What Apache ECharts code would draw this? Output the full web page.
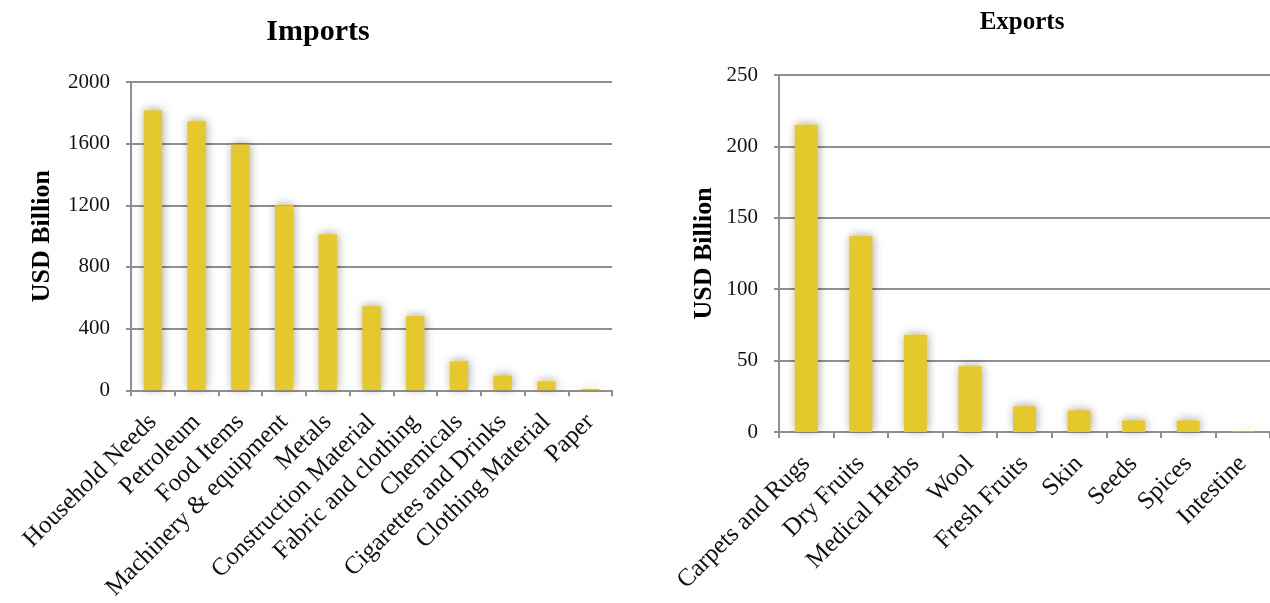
<!DOCTYPE html>
<html>
<head>
<meta charset="utf-8">
<title>Imports and Exports</title>
<script src="https://cdn.jsdelivr.net/npm/echarts@6/dist/echarts.min.js"></script>
<style>
  html, body { margin: 0; padding: 0; background: #ffffff; }
  #chart { width: 1270px; height: 603px; }
</style>
</head>
<body>
<div id="chart"></div>
<script>
// Import categories and values (USD Billion)
const importCategories = [
  'Household Needs', 'Petroleum', 'Food Items', 'Machinery & equipment', 'Metals',
  'Construction Material', 'Fabric and clothing', 'Chemicals', 'Cigarettes and Drinks',
  'Clothing Material', 'Paper'
];
const importValues = [1815, 1745, 1595, 1200, 1010, 545, 480, 187, 95, 57, 9];

// Export categories and values (USD Billion)
const exportCategories = [
  'Carpets and Rugs', 'Dry Fruits', 'Medical Herbs', 'Wool', 'Fresh Fruits',
  'Skin', 'Seeds', 'Spices', 'Intestine'
];
const exportValues = [215, 137, 68, 46, 18, 15, 8, 8, 0.4];

// Axis scales
const importAxis = { min: 0, max: 2000, interval: 400 };
const exportAxis = { min: 0, max: 250, interval: 50 };

const serif = '"Liberation Serif", "DejaVu Serif", serif';
const gray = '#8f8f8f';
const barColor = '#E5C92C';

function valueAxis(gridIndex, scale, nameGap) {
  return {
    type: 'value',
    gridIndex: gridIndex,
    min: scale.min,
    max: scale.max,
    interval: scale.interval,
    name: 'USD Billion',
    nameLocation: 'middle',
    nameGap: nameGap,
    nameTextStyle: { fontFamily: serif, fontWeight: 'bold', fontSize: 26, color: '#000' },
    axisLine: { show: true, lineStyle: { color: gray, width: 2 } },
    axisTick: { show: true, length: 5, lineStyle: { color: gray, width: 2 } },
    axisLabel: {
      fontFamily: serif, fontSize: 21, color: '#111', margin: 21,
      formatter: function (v) { return String(v); }
    },
    splitLine: { show: true, lineStyle: { color: gray, width: 2 } }
  };
}

function categoryAxis(gridIndex, cats) {
  return {
    type: 'category',
    gridIndex: gridIndex,
    data: cats,
    axisLine: { show: true, lineStyle: { color: gray, width: 2 } },
    axisTick: { show: true, length: 6, lineStyle: { color: gray, width: 2 } },
    axisLabel: {
      interval: 0,
      rotate: 45,
      margin: 28,
      fontFamily: serif,
      fontSize: 25,
      color: '#111'
    }
  };
}

function barSeries(idx, values) {
  return {
    type: 'bar',
    xAxisIndex: idx,
    yAxisIndex: idx,
    data: values,
    barWidth: '42%',
    itemStyle: {
      color: barColor,
      shadowColor: 'rgba(0,0,0,0.35)',
      shadowBlur: 10,
      shadowOffsetX: 1,
      shadowOffsetY: -1
    }
  };
}

const chart = echarts.init(document.getElementById('chart'), null, { renderer: 'canvas' });

chart.setOption({
  backgroundColor: '#ffffff',
  animation: false,
  title: [
    {
      text: 'Imports',
      left: 313, top: 12,
      textAlign: 'center',
      textStyle: { fontFamily: serif, fontWeight: 'bold', fontSize: 30, color: '#000' }
    },
    {
      text: 'Exports',
      left: 1017, top: 5,
      textAlign: 'center',
      textStyle: { fontFamily: serif, fontWeight: 'bold', fontSize: 25, color: '#000' }
    }
  ],
  grid: [
    { left: 131, top: 82, width: 481, height: 310, containLabel: false },
    { left: 779, top: 75, width: 492, height: 357, containLabel: false }
  ],
  xAxis: [categoryAxis(0, importCategories), categoryAxis(1, exportCategories)],
  yAxis: [valueAxis(0, importAxis, 76), valueAxis(1, exportAxis, 62)],
  series: [barSeries(0, importValues), barSeries(1, exportValues)]
});
</script>
</body>
</html>
